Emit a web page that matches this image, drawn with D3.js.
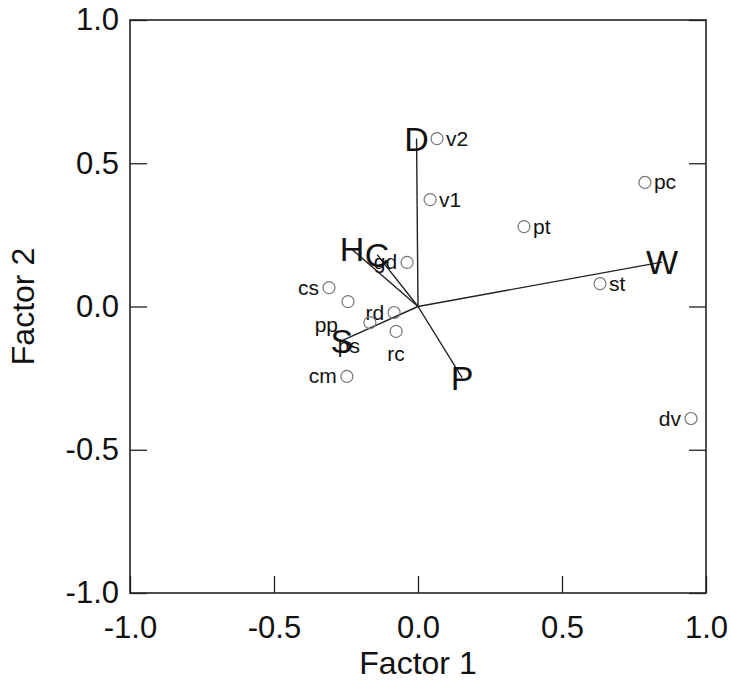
<!DOCTYPE html>
<html>
<head>
<meta charset="utf-8">
<script src="https://cdn.jsdelivr.net/npm/d3@7"></script>
<style>
  body { margin: 0; background: #fff; }
  text { font-family: "Liberation Sans", Arial, sans-serif; fill: #111; }
</style>
</head>
<body>
<svg id="chart" width="731" height="681"></svg>
<script>
// site scores
const siteNames = ['v2', 'v1', 'pt', 'pc', 'st', 'dv', 'gd', 'cs', 'pp', 'rd', 'ps', 'rc', 'cm']
const siteX = [0.066, 0.042, 0.368, 0.788, 0.632, 0.948, -0.038, -0.309, -0.243, -0.083, -0.167, -0.076, -0.247]
const siteY = [0.586, 0.373, 0.279, 0.433, 0.080, -0.391, 0.154, 0.066, 0.017, -0.021, -0.056, -0.087, -0.244]
const siteLabelSide = ['r', 'r', 'r', 'r', 'r', 'l', 'l', 'l', 'bl', 'l', 'bl', 'b', 'l']

// variable vectors
const vecNames = ['D', 'W', 'P', 'S', 'H', 'C']
const vecX = [-0.005, 0.847, 0.153, -0.264, -0.229, -0.142]
const vecY = [0.586, 0.155, -0.248, -0.119, 0.199, 0.181]

const ticks = [-1.0, -0.5, 0.0, 0.5, 1.0]

const svg = d3.select('#chart')
const plotLeft = 130, plotRight = 706, plotTop = 20, plotBottom = 593

const x = d3.scaleLinear().domain([-1, 1]).range([plotLeft, plotRight])
const y = d3.scaleLinear().domain([-1, 1]).range([plotBottom, plotTop])
const fmt = d => d.toFixed(1)

// axes (ticks pointing inward)
let xAxis = svg.append('g')
  .attr('transform', `translate(0,${plotBottom})`)
  .call(d3.axisBottom(x).tickValues(ticks).tickFormat(fmt).tickSizeInner(-17).tickSizeOuter(0).tickPadding(23))
let yAxis = svg.append('g')
  .attr('transform', `translate(${plotLeft},0)`)
  .call(d3.axisLeft(y).tickValues(ticks).tickFormat(fmt).tickSizeInner(-17).tickSizeOuter(0).tickPadding(11))
let yAxisR = svg.append('g')
  .attr('transform', `translate(${plotRight},0)`)
  .call(d3.axisRight(y).tickValues(ticks).tickFormat('').tickSizeInner(-17).tickSizeOuter(0))

;[xAxis, yAxis, yAxisR].forEach(a => {
  a.select('.domain').remove()
  a.selectAll('line').attr('stroke', '#222').attr('stroke-width', 1.3)
  a.selectAll('text').attr('font-size', 31).attr('fill', '#111')
    .attr('font-family', '"Liberation Sans", Arial, sans-serif')
})
xAxis.selectAll('text').attr('dy', '0.71em')

// frame
svg.append('rect')
  .attr('x', plotLeft).attr('y', plotTop)
  .attr('width', plotRight - plotLeft).attr('height', plotBottom - plotTop)
  .attr('fill', 'none').attr('stroke', '#222').attr('stroke-width', 1.6)

// axis titles
svg.append('text')
  .attr('x', x(0)).attr('y', 674)
  .attr('text-anchor', 'middle').attr('font-size', 32)
  .text('Factor 1')
svg.append('text')
  .attr('transform', `translate(34,${y(0)}) rotate(-90)`)
  .attr('text-anchor', 'middle').attr('font-size', 32)
  .text('Factor 2')

// vectors
let vectors = vecNames.map((n, i) => [n, vecX[i], vecY[i]])
svg.append('g').selectAll('line')
  .data(vectors).enter()
  .append('line')
  .attr('x1', x(0)).attr('y1', y(0))
  .attr('x2', d => x(d[1])).attr('y2', d => y(d[2]))
  .attr('stroke', '#222').attr('stroke-width', 1.4)

// sites
let sites = siteNames.map((n, i) => [n, siteX[i], siteY[i], siteLabelSide[i]])
let site = svg.append('g').selectAll('g')
  .data(sites).enter()
  .append('g')
  .attr('transform', d => `translate(${x(d[1])},${y(d[2])})`)

site.append('circle')
  .attr('r', 6)
  .attr('fill', 'none')
  .attr('stroke', '#777')
  .attr('stroke-width', 1.2)

site.append('text')
  .attr('font-size', 21)
  .attr('x', d => d[3] === 'r' ? 9 : d[3] === 'b' ? 0 : -10)
  .attr('y', d => d[3] === 'r' || d[3] === 'l' ? 7 : 30)
  .attr('text-anchor', d => d[3] === 'r' ? 'start' : d[3] === 'b' ? 'middle' : 'end')
  .text(d => d[0])

// vector labels
svg.append('g').selectAll('text')
  .data(vectors).enter()
  .append('text')
  .attr('x', d => x(d[1])).attr('y', d => y(d[2]) + 12)
  .attr('text-anchor', 'middle')
  .attr('font-size', 34)
  .text(d => d[0])
</script>
</body>
</html>
